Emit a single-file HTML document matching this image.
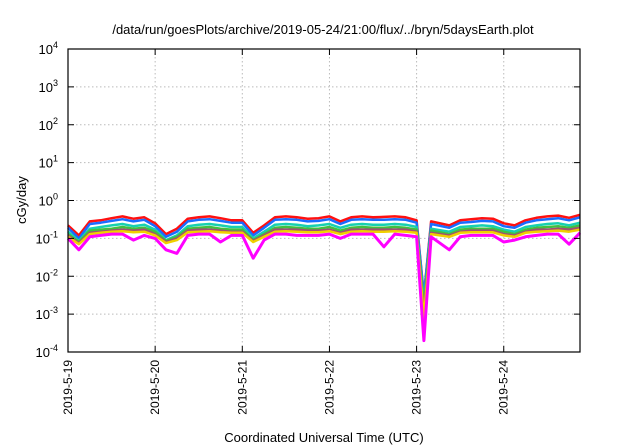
<!DOCTYPE html>
<html><head><meta charset="utf-8"><style>
body{margin:0;background:#fff;}
svg{display:block;font-family:"Liberation Sans",sans-serif;}
</style></head><body>
<svg id="chart" width="640" height="448">
<text x="323" y="34" font-size="13" text-anchor="middle">/data/run/goesPlots/archive/2019-05-24/21:00/flux/../bryn/5daysEarth.plot</text>
<text transform="translate(26,200) rotate(-90)" font-size="13" text-anchor="middle">cGy/day</text>
<text x="324" y="442" font-size="13" text-anchor="middle">Coordinated Universal Time (UTC)</text>
<g id="grid"></g><g id="series"></g><g id="axes"></g>
</svg>
<script>
const dayLabels=["2019-5-19","2019-5-20","2019-5-21","2019-5-22","2019-5-23","2019-5-24"];
const yExponents=[-4,-3,-2,-1,0,1,2,3,4];
const hours=[0,3,6,9,12,15,18,21,24,27,30,33,36,39,42,45,48,51,54,57,60,63,66,69,72,75,78,81,84,87,90,93,96,98,100,105,108,111,114,117,120,123,126,129,132,135,138,141];
const red=[.22,.12,.28,.30,.34,.38,.33,.36,.25,.13,.18,.33,.36,.38,.34,.30,.30,.14,.22,.36,.38,.36,.33,.34,.38,.28,.36,.38,.36,.37,.38,.36,.30,.003,.28,.22,.30,.32,.34,.33,.25,.22,.30,.35,.38,.40,.35,.42];
const blue=[.19,.10,.24,.26,.29,.32,.28,.31,.21,.11,.15,.28,.31,.32,.29,.26,.26,.12,.19,.31,.32,.31,.28,.29,.32,.24,.31,.32,.31,.31,.32,.31,.26,.003,.24,.19,.26,.27,.29,.28,.21,.19,.26,.30,.32,.34,.30,.36];
const teal=[.15,.085,.18,.2,.22,.24,.21,.23,.17,.09,.12,.21,.23,.24,.22,.2,.2,.1,.15,.23,.24,.23,.21,.22,.24,.19,.23,.24,.23,.23,.24,.23,.2,.002,.18,.15,.2,.21,.22,.21,.17,.15,.2,.22,.24,.25,.22,.26];
const green=[.13,.08,.16,.17,.18,.2,.18,.19,.15,.085,.11,.18,.19,.2,.18,.17,.17,.09,.13,.19,.2,.19,.18,.18,.2,.16,.19,.2,.19,.19,.2,.19,.17,.0015,.16,.13,.17,.18,.18,.18,.15,.13,.17,.19,.2,.21,.19,.22];
const brown=[.12,.075,.14,.15,.16,.17,.16,.17,.13,.08,.1,.16,.17,.17,.16,.15,.15,.085,.12,.17,.17,.17,.16,.16,.17,.14,.17,.17,.17,.17,.17,.17,.15,.001,.14,.12,.15,.16,.16,.16,.13,.12,.15,.17,.17,.18,.17,.19];
const yellow=[.11,.07,.13,.14,.15,.155,.145,.15,.12,.075,.09,.145,.15,.155,.145,.14,.14,.08,.11,.15,.155,.15,.145,.145,.155,.13,.15,.155,.15,.15,.155,.15,.14,.0008,.13,.11,.14,.145,.145,.145,.12,.11,.14,.15,.155,.16,.15,.17];
const magenta=[.1,.05,.11,.12,.13,.13,.09,.12,.1,.05,.04,.12,.13,.13,.08,.12,.12,.03,.09,.13,.13,.12,.12,.12,.13,.1,.13,.13,.13,.06,.13,.12,.11,.0002,.11,.05,.11,.12,.12,.12,.08,.09,.11,.12,.13,.13,.07,.14];
const L=68,R=580,T=49,B=352,hMax=141;
const NS="http://www.w3.org/2000/svg";
function xs(h){return L+(R-L)*h/hMax;}
function ys(v){return B-(Math.log10(v)+4)/8*(B-T);}
function mk(p,tag,at){const e=document.createElementNS(NS,tag);for(const k in at)e.setAttribute(k,at[k]);p.appendChild(e);return e;}
const grid=document.getElementById('grid'),axes=document.getElementById('axes'),ser=document.getElementById('series');
yExponents.forEach((ex)=>{const y=ys(Math.pow(10,ex));
 if(ex>-4&&ex<4){const g=mk(grid,'line',{x1:L,x2:R,y1:y,y2:y,stroke:'#bbb','stroke-dasharray':'1.5,2.5'});
 
 }
 mk(axes,'line',{x1:L,x2:L+6,y1:y,y2:y,stroke:'#000'});mk(axes,'line',{x1:R,x2:R-6,y1:y,y2:y,stroke:'#000'});
 const t=mk(axes,'text',{x:58,y:y+5,'font-size':'13','text-anchor':'end'});
 
 
 t.textContent='10';const s=mk(t,'tspan',{dy:'-6','font-size':'9'});s.textContent=String(ex);});
dayLabels.forEach((d,i)=>{const x=xs(i*24);
 if(i>0){const g=mk(grid,'line',{x1:x,x2:x,y1:T,y2:B,stroke:'#bbb','stroke-dasharray':'1.5,2.5'});
 
 }
 mk(axes,'line',{x1:x,x2:x,y1:B,y2:B-6,stroke:'#000'});mk(axes,'line',{x1:x,x2:x,y1:T,y2:T+6,stroke:'#000'});
 const t=mk(axes,'text',{transform:`translate(${x+4},360) rotate(-90)`,'font-size':'12','text-anchor':'end'});
 
 
 t.textContent=d;});
const fr=mk(axes,'rect',{x:L,y:T,width:R-L,height:B-T,fill:'none',stroke:'#000','stroke-width':'1.2'});


const seriesList=[[red,'#ff1010','series-red'],[blue,'#1a6cff','series-blue'],[teal,'#17d0b0','series-teal'],[green,'#40c040','series-green'],[brown,'#a05070','series-brown'],[yellow,'#f0d000','series-yellow'],[magenta,'#ff00ff','series-magenta']];
seriesList.forEach(([arr,c,n])=>{
 const p=mk(ser,'polyline',{points:arr.map((v,i)=>xs(hours[i]).toFixed(1)+','+ys(v).toFixed(1)).join(' '),fill:'none',stroke:c,'stroke-width':n==='series-magenta'?'3':'2.5','stroke-linejoin':'round'});
 
 });
</script>
</body></html>
